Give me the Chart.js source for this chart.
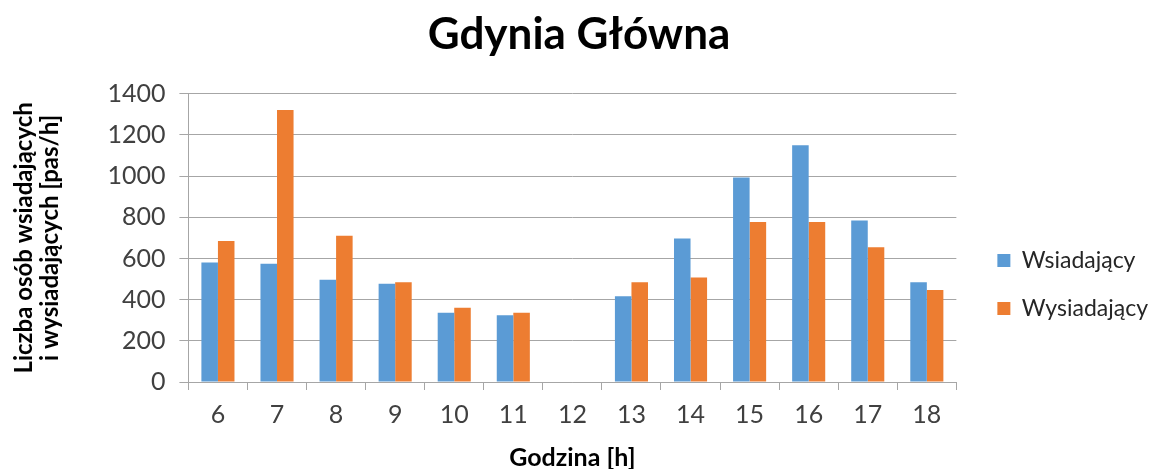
<!DOCTYPE html>
<html>
<head>
<meta charset="utf-8">
<script src="https://cdn.jsdelivr.net/npm/chart.js@4"></script>
<style>
    html, body { margin: 0; padding: 0; background: #fff; }
    #wrap { width: 1158px; height: 469px; }
</style>
</head>
<body>
<div id="wrap"><canvas id="chartGdynia" width="1158" height="469"></canvas></div>
<script>
// dane z wykresu
const godziny = ['6', '7', '8', '9', '10', '11', '12', '13', '14', '15', '16', '17', '18'];
const wsiadajacy = [580, 574, 497, 477, 337, 324, 0, 416, 697, 994, 1150, 784, 484];
const wysiadajacy = [685, 1321, 710, 484, 361, 337, 0, 484, 508, 777, 777, 655, 447];
const yTicks = [0, 200, 400, 600, 800, 1000, 1200, 1400];

const FONT = "Lato, 'Open Sans', sans-serif";
const gridColor = '#a6a6a6';

const ctx = document.getElementById('chartGdynia');
new Chart(ctx, {
    type: 'bar',
    data: {
        labels: godziny,
        datasets: [
            { label: 'Wsiadający', data: wsiadajacy, backgroundColor: '#5b9bd5', barPercentage: 1, categoryPercentage: 0.56 },
            { label: 'Wysiadający', data: wysiadajacy, backgroundColor: '#ed7d31', barPercentage: 1, categoryPercentage: 0.56 }
        ]
    },
    options: {
        responsive: false,
        devicePixelRatio: 1,
        animation: false,
        layout: { padding: { left: 0, right: 0, top: 4, bottom: -4 } },
        scales: {
            x: {
                grid: { drawOnChartArea: false, drawTicks: true, tickLength: 8, color: gridColor, offset: true },
                border: { color: gridColor },
                ticks: { color: '#404040', font: { family: FONT, size: 25 }, padding: 10 },
                title: { display: true, text: 'Godzina [h]', color: '#000', font: { family: FONT, size: 25, weight: 'bold' }, padding: { top: 3, bottom: 0 } }
            },
            y: {
                min: 0,
                max: 1400,
                afterBuildTicks: (axis) => { axis.ticks = yTicks.map(v => ({ value: v })); },
                grid: { color: gridColor, tickLength: 9, lineWidth: 1 },
                border: { color: gridColor },
                ticks: { color: '#404040', font: { family: FONT, size: 25 }, padding: 14, callback: (v) => String(v) },
                title: { display: true, text: ['Liczba osób wsiadających', 'i wysiadających [pas/h]'], color: '#000', font: { family: FONT, size: 24, weight: 'bold', lineHeight: 1.05 }, padding: { top: 12, bottom: 31 } }
            },
            // pusta oś tylko jako odstęp przed legendą
            odstep: {
                position: 'right',
                display: true,
                grid: { display: false },
                border: { display: false },
                ticks: { display: false },
                afterFit: (axis) => { axis.width = 16; }
            }
        },
        plugins: {
            title: {
                display: true,
                text: 'Gdynia Główna',
                color: '#000',
                font: { family: FONT, size: 44, weight: 'bold' },
                padding: { top: 4, bottom: 33 }
            },
            legend: {
                position: 'right',
                title: { display: true, text: ' ', font: { size: 10, lineHeight: 1 }, padding: { top: 0, bottom: 82 } },
                labels: {
                    boxWidth: 13,
                    boxHeight: 13,
                    padding: 25,
                    color: '#262626',
                    font: { family: FONT, size: 23 }
                }
            },
            tooltip: { enabled: false }
        }
    }
});
</script>
</body>
</html>
